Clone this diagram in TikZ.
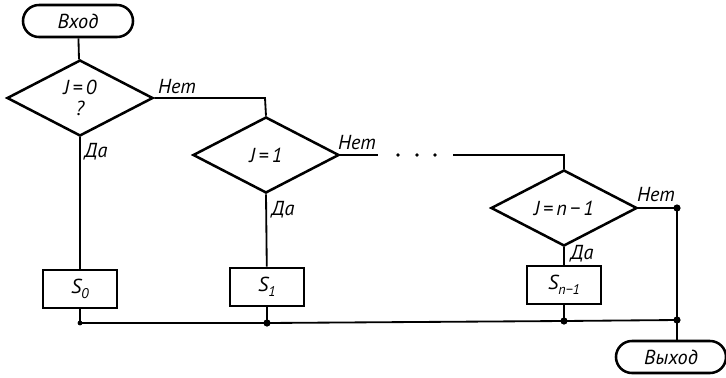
\documentclass[tikz,border=0pt]{standalone}
\usepackage{fontspec}
\setmainfont{PT Sans}
\usetikzlibrary{shapes.geometric}
\newcommand\idx[1]{\raisebox{-0.45ex}{\normalsize #1}}
\tikzset{
  every node/.style={font=\itshape\Large},
  terminal/.style={draw,line width=1.8pt,rectangle,rounded corners=0.4cm,minimum width=2.75cm,minimum height=0.8cm},
  decision/.style={draw,line width=1.8pt,diamond,inner sep=0pt,minimum width=3.65cm,minimum height=1.9cm,align=center},
  block/.style={draw,line width=1.8pt,rectangle,minimum width=1.85cm,minimum height=0.95cm},
  flow/.style={line width=1.3pt},
  joint/.style={circle,fill,inner sep=0pt,minimum size=0.18cm}
}
\begin{document}
\begin{tikzpicture}[x=0.025cm,y=-0.025cm]
  \useasboundingbox (0,0) rectangle (726,377);

  \node[terminal] (in)  at (78,21)   {Вход};
  \node[terminal] (out) at (671,357) {Выход};

  \node[decision] (d0) at (80,98)   {J\,=\,0\\[-3pt]?};
  \node[decision] (d1) at (266,155) {J\,=\,1};
  \node[decision] (dn) at (564,208) {J\,=\,n\,−\,1};

  \node[block] (s0) at (80,289)  {S\idx{0}};
  \node[block] (s1) at (267,287) {S\idx{1}};
  \node[block] (sn) at (564,285) {S\idx{n−1}};

  \coordinate (c0) at (265,98);
  \coordinate (c1) at (378,155);
  \coordinate (c2) at (453,155);
  \coordinate (c3) at (564,155);
  \coordinate (r)  at (677,208);
  \coordinate (b0) at (80,323);
  \coordinate (b1) at (267,323);
  \coordinate (bn) at (564,321);
  \coordinate (br) at (677,320);

  \draw[flow] (in) -- (d0);
  \draw[flow] (d0.east) -- (c0) -- (d1.north);
  \draw[flow] (d1.east) -- (c1);
  \draw[flow] (c2) -- (c3) -- (dn.north);
  \draw[flow] (dn.east) -- (r) -- (br) -- (out.north -| br);
  \draw[flow] (d0.south) -- (s0);
  \draw[flow] (d1.south) -- (s1);
  \draw[flow] (dn.south) -- (sn);
  \draw[flow] (s0) -- (b0);
  \draw[flow] (s1) -- (b1);
  \draw[flow] (sn) -- (bn);
  \draw[flow] (b0) -- (b1) -- (bn) -- (br);

  \foreach \p in {r,b1,bn,br}
    \node[joint] at (\p) {};
  \node[joint,minimum size=0.12cm] at (b0) {};

  % dots between the decisions
  \foreach \x in {398,417,435}
    \fill (\x,155) circle (0.045cm);

  \node (n0) at (177,87)  {Нет};
  \node (n1) at (357,143) {Нет};
  \node (nn) at (656,195) {Нет};
  \node (y0) at (96,152)  {Да};
  \node (y1) at (283,210) {Да};
  \node (yn) at (582,254) {Да};
\end{tikzpicture}
\end{document}
